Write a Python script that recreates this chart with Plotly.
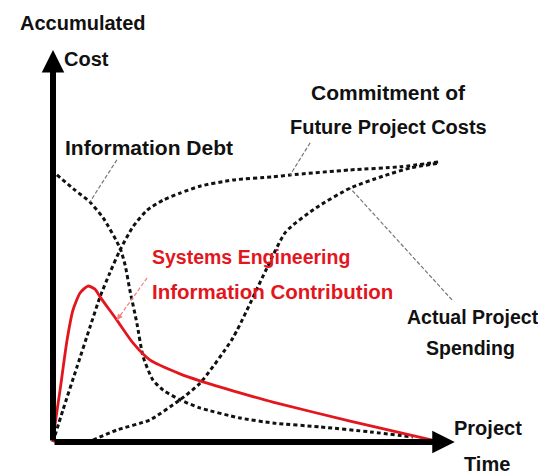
import numpy as np
import plotly.graph_objects as go

# ── Curve data (time 0-100, accumulated cost 0-100) ──────────────
info_debt_t = [1.0, 5.6, 9.4, 12.8, 17.1, 18.4, 19.6, 21.4, 23.0, 25.5, 28.1, 32.4, 37.5, 47.7, 56.1, 68.1, 80.9, 91.8]
info_debt_c = [69.0, 65.1, 62.0, 57.9, 50.1, 45.7, 39.3, 30.7, 22.0, 16.0, 13.4, 10.9, 8.8, 6.2, 4.9, 3.9, 2.6, 1.3]

commit_t = [0, 2.55, 6.12, 9.44, 12.0, 14.5, 17.1, 20.4, 24.0, 28.1, 32.4, 37.5, 45.9, 56.1, 60.5, 75.8, 88.5, 98.7]
commit_c = [0, 8.3, 19.4, 29.7, 37.5, 43.7, 49.6, 55.6, 59.9, 62.5, 64.3, 66.1, 67.7, 68.5, 69.0, 70.3, 71.1, 72.4]

spend_t = [10.2, 16.3, 24.7, 32.4, 37.5, 45.9, 54.6, 59.4, 67.1, 75.8, 84.2, 91.1, 98.7]
spend_c = [0.5, 3.1, 5.7, 10.9, 15.2, 26.9, 45.0, 54.3, 60.5, 65.6, 68.7, 70.8, 72.1]

se_t = [0, 0.5, 1.8, 3.6, 5.1, 6.9, 8.9, 10.7, 12.0, 16.3, 20.4, 24.7, 32.4, 37.5, 47.7, 56.1, 75.8, 98.7]
se_c = [0, 4.4, 13.4, 26.4, 34.1, 38.5, 40.3, 39.5, 37.5, 31.5, 25.6, 21.2, 17.6, 15.8, 12.7, 10.3, 5.4, 0]

# axis arrow tips
X_TIP = 102.5
Y_TIP = 101.3
# visible window in data units (page body has an 8px margin, so the figure is 8px smaller)
X_RANGE = [-11.48, 125.77]
Y_RANGE = [-8.79, 112.14]

FONT = "Liberation Sans, Arial"
BLACK = "#111111"
RED = "#e3161e"

fig = go.Figure()

dotted = dict(color=BLACK, width=3, dash="4px,3px", shape="spline", smoothing=0.6)
for t, c in [(info_debt_t, info_debt_c), (commit_t, commit_c), (spend_t, spend_c)]:
    fig.add_trace(go.Scatter(x=t, y=c, mode="lines", line=dotted, hoverinfo="skip"))

fig.add_trace(go.Scatter(x=se_t, y=se_c, mode="lines",
                         line=dict(color=RED, width=2.8, shape="spline", smoothing=0.6),
                         hoverinfo="skip"))

# ── Axes drawn as arrows ─────────────────────────────────────────
annotations = [
    dict(x=X_TIP, y=0, ax=0, ay=0),
    dict(x=0, y=Y_TIP, ax=0, ay=0),
]
annotations = [dict(a, xref="x", yref="y", axref="x", ayref="y", text="",
                    showarrow=True, arrowhead=2, arrowsize=0.75, arrowwidth=6,
                    arrowcolor="black", standoff=0, startstandoff=0)
               for a in annotations]

# ── Labels ───────────────────────────────────────────────────────
labels = [
    ("Accumulated", 7.65, 108.3, "center", BLACK, 20),
    ("Cost", 2.3, 99.0, "left", BLACK, 20),
    ("Information Debt", 2.55, 76.2, "left", BLACK, 21),
    ("Commitment of", 85.5, 90.4, "center", BLACK, 21),
    ("Future Project Costs", 85.5, 81.4, "center", BLACK, 20),
    ("Systems Engineering", 24.7, 47.7, "left", RED, 19.5),
    ("Information Contribution", 24.7, 38.8, "left", RED, 20.5),
    ("Actual Project", 107.2, 32.3, "center", BLACK, 19.5),
    ("Spending", 106.6, 24.4, "center", BLACK, 19.5),
    ("Project", 111.0, 3.5, "center", BLACK, 20),
    ("Time", 110.7, -5.7, "center", BLACK, 20),
]
for text, x, y, anchor, col, size in labels:
    annotations.append(dict(x=x, y=y, xref="x", yref="y", text=text, showarrow=False,
                            xanchor=anchor, yanchor="middle",
                            font=dict(family=FONT, size=size, color=col, weight="bold")))

# ── Leader lines: label point -> point on curve ──────────────────
leaders = [
    ((16.3, 72.9), info_debt_t, info_debt_c, 9.4, "#777777"),
    ((65.6, 77.3), commit_t, commit_c, 60.5, "#777777"),
    ((101.8, 36.7), spend_t, spend_c, 75.8, "#777777"),
    ((24.0, 42.4), se_t, se_c, 16.3, "#f08080"),
]
shapes = []
for (x0, y0), ts, cs, t_hit, col in leaders:
    c_hit = float(np.interp(t_hit, ts, cs))
    shapes.append(dict(type="line", xref="x", yref="y", x0=x0, y0=y0, x1=t_hit, y1=c_hit,
                       line=dict(color=col, width=1.2, dash="4px,2px")))

# small arrowhead where the red leader meets its curve
se_hit = float(np.interp(16.3, se_t, se_c))
annotations.append(dict(x=16.3, y=se_hit, xref="x", yref="y", ax=5, ay=-7, text="",
                        showarrow=True, arrowhead=2, arrowsize=1, arrowwidth=1.2,
                        arrowcolor="#f08080", standoff=0))

fig.update_layout(
    width=538, height=468,
    margin=dict(l=0, r=0, t=0, b=0),
    paper_bgcolor="white", plot_bgcolor="white",
    showlegend=False,
    xaxis=dict(range=X_RANGE, visible=False, fixedrange=True),
    yaxis=dict(range=Y_RANGE, visible=False, fixedrange=True),
    annotations=annotations,
    shapes=shapes,
)

fig.write_html("out.html")
